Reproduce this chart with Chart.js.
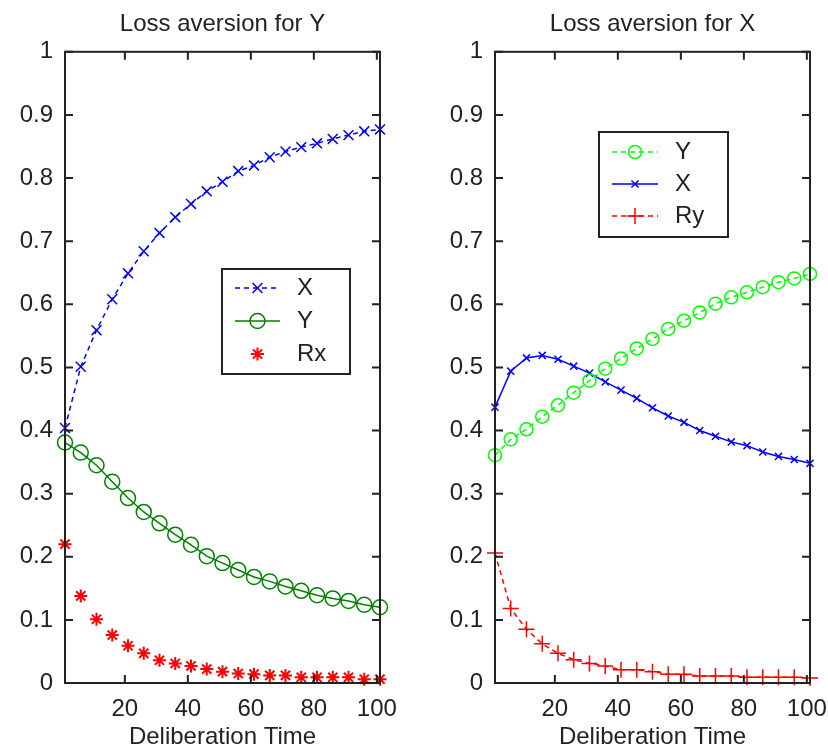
<!DOCTYPE html>
<html>
<head>
<meta charset="utf-8">
<script src="https://cdn.jsdelivr.net/npm/chart.js@4"></script>
<style>
    html, body { margin: 0; padding: 0; background: #fff; }
    #wrap { position: relative; width: 828px; height: 752px; }
    canvas { position: absolute; top: 0; }
</style>
</head>
<body>
<div id="wrap">
    <canvas id="leftChart" width="414" height="752" style="left:0"></canvas>
    <canvas id="rightChart" width="414" height="752" style="left:414px"></canvas>
</div>
<script>
// deliberation time samples (markers every 5 steps)
const times = [1, 6, 11, 16, 21, 26, 31, 36, 41, 46, 51, 56, 61, 66, 71, 76, 81, 86, 91, 96, 101];
const xTicks = [20, 40, 60, 80, 100];
const yTicks = [0, 0.1, 0.2, 0.3, 0.4, 0.5, 0.6, 0.7, 0.8, 0.9, 1];

// left panel: Loss aversion for Y
const leftX  = [0.404, 0.501, 0.559, 0.608, 0.649, 0.684, 0.713, 0.738, 0.759, 0.779, 0.794,
                0.811, 0.820, 0.833, 0.842, 0.849, 0.855, 0.862, 0.868, 0.874, 0.877];
const leftY  = [0.381, 0.365, 0.345, 0.319, 0.293, 0.271, 0.253, 0.235, 0.219, 0.201, 0.190,
                0.179, 0.168, 0.161, 0.153, 0.146, 0.139, 0.134, 0.130, 0.124, 0.120];
const leftRx = [0.220, 0.138, 0.101, 0.076, 0.059, 0.047, 0.036, 0.031, 0.027, 0.022, 0.018,
                0.015, 0.014, 0.012, 0.012, 0.009, 0.009, 0.009, 0.009, 0.006, 0.006];

// right panel: Loss aversion for X
const rightY  = [0.361, 0.386, 0.402, 0.422, 0.440, 0.460, 0.479, 0.498, 0.514, 0.530, 0.545,
                 0.561, 0.574, 0.587, 0.601, 0.611, 0.619, 0.627, 0.635, 0.641, 0.648];
const rightX  = [0.437, 0.494, 0.515, 0.519, 0.513, 0.502, 0.491, 0.477, 0.464, 0.451, 0.436,
                 0.423, 0.413, 0.400, 0.391, 0.382, 0.376, 0.366, 0.359, 0.354, 0.348];
const rightRy = [0.206, 0.118, 0.085, 0.062, 0.047, 0.037, 0.031, 0.027, 0.021, 0.021, 0.018,
                 0.014, 0.014, 0.011, 0.011, 0.011, 0.009, 0.009, 0.009, 0.009, 0.008];

const FONT = "'Liberation Sans', Arial, sans-serif";
const INK = '#222';
Chart.defaults.font.family = FONT;
Chart.defaults.font.size = 24;
Chart.defaults.color = INK;

function pts(arr) {
    return times.map((t, i) => ({ x: t, y: arr[i] }));
}

function series(label, arr, color, style, radius, dash, showLine, markerWidth) {
    return {
        label: label,
        data: pts(arr),
        borderColor: color,
        borderWidth: 1.5,
        borderDash: dash || [],
        showLine: showLine !== false,
        pointStyle: style,
        pointRadius: radius,
        pointBorderColor: color,
        pointBackgroundColor: 'rgba(0,0,0,0)',
        pointBorderWidth: markerWidth || 1.5,
        tension: 0,
        clip: false
    };
}

// box with inward ticks + legend drawn inside the axes
const framePlugin = {
    id: 'frame',
    afterDraw(chart, args, opts) {
        const { ctx, chartArea: a, scales: { x, y } } = chart;
        ctx.save();
        ctx.strokeStyle = INK;
        ctx.lineWidth = 2;
        ctx.strokeRect(a.left, a.top, a.right - a.left, a.bottom - a.top);
        const len = 8;
        ctx.beginPath();
        x.ticks.forEach(t => {
            const px = x.getPixelForValue(t.value);
            ctx.moveTo(px, a.bottom); ctx.lineTo(px, a.bottom - len);
            ctx.moveTo(px, a.top); ctx.lineTo(px, a.top + len);
        });
        y.ticks.forEach(t => {
            const py = y.getPixelForValue(t.value);
            ctx.moveTo(a.left, py); ctx.lineTo(a.left + len, py);
            ctx.moveTo(a.right, py); ctx.lineTo(a.right - len, py);
        });
        ctx.stroke();

        // legend
        const lg = opts.legend;
        ctx.fillStyle = '#fff';
        ctx.fillRect(lg.box[0], lg.box[1], lg.box[2], lg.box[3]);
        ctx.strokeRect(lg.box[0], lg.box[1], lg.box[2], lg.box[3]);
        chart.data.datasets.forEach((ds, i) => {
            const ry = lg.rows[i];
            ctx.save();
            if (ds.showLine !== false) {
                ctx.strokeStyle = ds.borderColor;
                ctx.lineWidth = ds.borderWidth;
                ctx.setLineDash(ds.borderDash || []);
                ctx.beginPath();
                ctx.moveTo(lg.line[0], ry);
                ctx.lineTo(lg.line[1], ry);
                ctx.stroke();
                ctx.setLineDash([]);
            }
            ctx.strokeStyle = ds.pointBorderColor;
            ctx.fillStyle = 'rgba(0,0,0,0)';
            ctx.lineWidth = ds.pointBorderWidth;
            Chart.helpers.drawPoint(ctx, {
                pointStyle: ds.pointStyle,
                radius: ds.pointRadius,
                borderWidth: ds.pointBorderWidth,
                rotation: 0
            }, (lg.line[0] + lg.line[1]) / 2, ry);
            ctx.fillStyle = INK;
            ctx.font = '24px ' + FONT;
            ctx.textBaseline = 'middle';
            ctx.textAlign = 'left';
            ctx.fillText(ds.label, lg.text, ry);
            ctx.restore();
        });
        ctx.restore();
    }
};

function makePanel(id, title, datasets, yWidth, padRight, legend) {
    return new Chart(document.getElementById(id), {
        type: 'line',
        data: { datasets: datasets },
        options: {
            responsive: false,
            animation: false,
            layout: { padding: { left: 0, right: padRight, top: 0, bottom: 0 } },
            scales: {
                x: {
                    type: 'linear',
                    min: 1,
                    max: 101,
                    afterBuildTicks: s => { s.ticks = xTicks.map(v => ({ value: v })); },
                    afterFit: s => { s.height = 69; s.paddingLeft = 0; s.paddingRight = 0; },
                    grid: { display: false, drawTicks: false },
                    border: { display: false },
                    ticks: { padding: 12, color: INK, maxRotation: 0 },
                    title: { display: true, text: 'Deliberation Time', color: INK, padding: { top: 0, bottom: 0 } }
                },
                y: {
                    min: 0,
                    max: 1,
                    afterBuildTicks: s => { s.ticks = yTicks.map(v => ({ value: v })); },
                    afterFit: s => { s.width = yWidth; s.paddingTop = 0; s.paddingBottom = 0; },
                    grid: { display: false, drawTicks: false },
                    border: { display: false },
                    ticks: { padding: 12, color: INK, callback: v => String(Math.round(v * 10) / 10) }
                }
            },
            plugins: {
                legend: { display: false },
                tooltip: { enabled: false },
                title: {
                    display: true,
                    text: title,
                    fullSize: false,
                    color: INK,
                    font: { size: 24, weight: 'normal' },
                    padding: { top: 10, bottom: 13 }
                },
                frame: { legend: legend }
            }
        },
        plugins: [framePlugin]
    });
}

makePanel('leftChart', 'Loss aversion for Y', [
    series('X', leftX, '#0000ff', 'crossRot', 7, [5, 4]),
    series('Y', leftY, '#008000', 'circle', 7.5),
    series('Rx', leftRx, '#ff0000', 'star', 6.5, null, false, 2)
], 65, 34, { box: [222, 269, 128, 105], rows: [288, 321, 354], line: [235, 280], text: 297 });

makePanel('rightChart', 'Loss aversion for X', [
    series('Y', rightY, '#00ff00', 'circle', 6.5, [5, 4]),
    series('X', rightX, '#0000ff', 'crossRot', 5),
    series('Ry', rightRy, '#ff0000', 'cross', 8, [5, 4])
], 81, 18, { box: [185, 132, 129, 105], rows: [152, 184, 216], line: [198, 244], text: 261 });
</script>
</body>
</html>
